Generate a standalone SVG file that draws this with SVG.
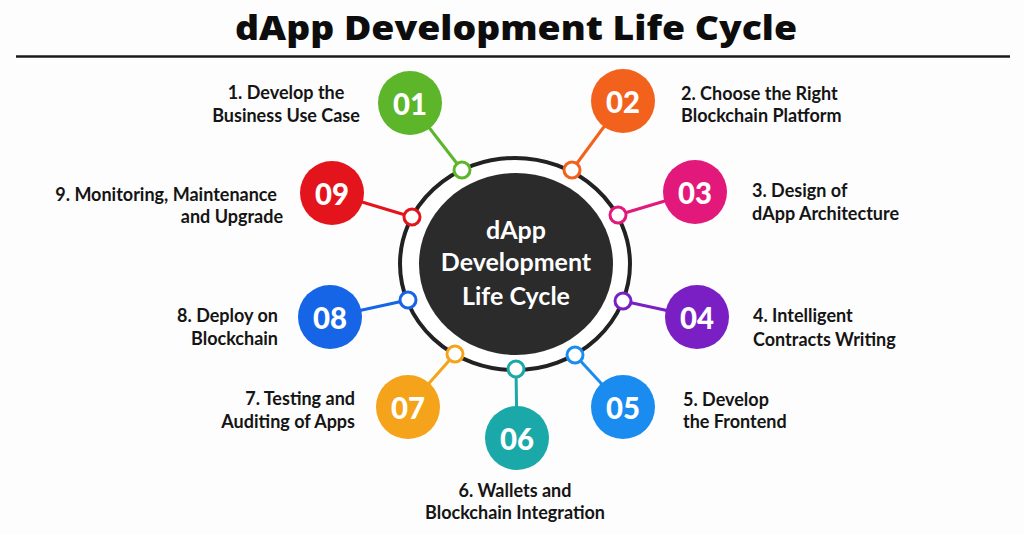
<svg xmlns="http://www.w3.org/2000/svg" width="1024" height="535" viewBox="0 0 1024 535">
<style>
.lbl{font-family:Lato,"Liberation Sans",sans-serif;font-weight:700;font-size:18px;fill:#151515}
.num{font-family:Lato,"Liberation Sans",sans-serif;font-weight:900;font-size:31px;fill:#fff;text-anchor:middle}
.ctr{font-family:Lato,"Liberation Sans",sans-serif;font-weight:700;font-size:25px;fill:#fff;text-anchor:middle}
.dot{fill:#fff;stroke-width:3}
.con{stroke-width:3;fill:none}
</style>
<rect width="1024" height="535" fill="#fdfdfd"/>
<g id="title">
<text x="516" y="40" text-anchor="middle" textLength="562" lengthAdjust="spacingAndGlyphs" style="font-family:'Open Sans','Liberation Sans',sans-serif;font-weight:800;font-size:33px;fill:#0d0d0d">dApp Development Life Cycle</text>
<line x1="16" y1="56.5" x2="1010" y2="56.5" stroke="#1a1a1a" stroke-width="2.5"/>
</g>
<g id="connectors">
<line class="con" x1="410" y1="103" x2="462" y2="170" stroke="#5db52a"/>
<line class="con" x1="623" y1="101" x2="572" y2="170" stroke="#f2621c"/>
<line class="con" x1="695" y1="192" x2="618" y2="215" stroke="#e2187b"/>
<line class="con" x1="697" y1="317" x2="623" y2="301" stroke="#7a1fc4"/>
<line class="con" x1="623" y1="407" x2="575" y2="355" stroke="#1a8cf0"/>
<line class="con" x1="517" y1="438" x2="516" y2="369" stroke="#1ba8a8"/>
<line class="con" x1="408" y1="407" x2="455" y2="354" stroke="#f5a31a"/>
<line class="con" x1="330" y1="317" x2="408" y2="300" stroke="#1565e6"/>
<line class="con" x1="332" y1="193" x2="412" y2="217" stroke="#e4141c"/>
</g>
<g id="hub">
<ellipse cx="515" cy="264" rx="115" ry="106" fill="#fff" stroke="#222" stroke-width="4"/>
<ellipse cx="516" cy="264" rx="97" ry="91" fill="#2b2b2b"/>
<text class="ctr" x="516" y="239">dApp</text>
<text class="ctr" x="516" y="271">Development</text>
<text class="ctr" x="516" y="305">Life Cycle</text>
</g>
<g id="step1">
<circle class="dot" cx="462" cy="170" r="8" stroke="#5db52a"/>
<circle cx="410" cy="103" r="32" fill="#5db52a"/>
<text class="num" x="410" y="114.5" textLength="34" lengthAdjust="spacingAndGlyphs">01</text>
<text class="lbl" x="286" y="99" text-anchor="middle">1. Develop the</text>
<text class="lbl" x="286" y="122" text-anchor="middle">Business Use Case</text>
</g>
<g id="step2">
<circle class="dot" cx="572" cy="170" r="8" stroke="#f2621c"/>
<circle cx="623" cy="101" r="32" fill="#f2621c"/>
<text class="num" x="623" y="112.5" textLength="34" lengthAdjust="spacingAndGlyphs">02</text>
<text class="lbl" x="681" y="100">2. Choose the Right</text>
<text class="lbl" x="681" y="122">Blockchain Platform</text>
</g>
<g id="step3">
<circle class="dot" cx="618" cy="215" r="8" stroke="#e2187b"/>
<circle cx="695" cy="192" r="32" fill="#e2187b"/>
<text class="num" x="695" y="203.5" textLength="34" lengthAdjust="spacingAndGlyphs">03</text>
<text class="lbl" x="752" y="197">3. Design of</text>
<text class="lbl" x="752" y="220">dApp Architecture</text>
</g>
<g id="step4">
<circle class="dot" cx="623" cy="301" r="8" stroke="#7a1fc4"/>
<circle cx="697" cy="317" r="32" fill="#7a1fc4"/>
<text class="num" x="697" y="328.5" textLength="34" lengthAdjust="spacingAndGlyphs">04</text>
<text class="lbl" x="753" y="322">4. Intelligent</text>
<text class="lbl" x="753" y="346">Contracts Writing</text>
</g>
<g id="step5">
<circle class="dot" cx="575" cy="355" r="8" stroke="#1a8cf0"/>
<circle cx="623" cy="407" r="32" fill="#1a8cf0"/>
<text class="num" x="623" y="418.5" textLength="34" lengthAdjust="spacingAndGlyphs">05</text>
<text class="lbl" x="683" y="406">5. Develop</text>
<text class="lbl" x="683" y="428">the Frontend</text>
</g>
<g id="step6">
<circle class="dot" cx="516" cy="369" r="8" stroke="#1ba8a8"/>
<circle cx="517" cy="438" r="32" fill="#1ba8a8"/>
<text class="num" x="517" y="449.5" textLength="34" lengthAdjust="spacingAndGlyphs">06</text>
<text class="lbl" x="515" y="497" text-anchor="middle">6. Wallets and</text>
<text class="lbl" x="515" y="519" text-anchor="middle">Blockchain Integration</text>
</g>
<g id="step7">
<circle class="dot" cx="455" cy="354" r="8" stroke="#f5a31a"/>
<circle cx="408" cy="407" r="32" fill="#f5a31a"/>
<text class="num" x="408" y="418.5" textLength="34" lengthAdjust="spacingAndGlyphs">07</text>
<text class="lbl" x="355" y="405" text-anchor="end">7. Testing and</text>
<text class="lbl" x="355" y="428" text-anchor="end">Auditing of Apps</text>
</g>
<g id="step8">
<circle class="dot" cx="408" cy="300" r="8" stroke="#1565e6"/>
<circle cx="330" cy="317" r="32" fill="#1565e6"/>
<text class="num" x="330" y="328.5" textLength="34" lengthAdjust="spacingAndGlyphs">08</text>
<text class="lbl" x="278" y="322" text-anchor="end">8. Deploy on</text>
<text class="lbl" x="278" y="345" text-anchor="end">Blockchain</text>
</g>
<g id="step9">
<circle class="dot" cx="412" cy="217" r="8" stroke="#e4141c"/>
<circle cx="332" cy="193" r="32" fill="#e4141c"/>
<text class="num" x="332" y="204.5" textLength="34" lengthAdjust="spacingAndGlyphs">09</text>
<text class="lbl" x="277" y="201" text-anchor="end">9. Monitoring, Maintenance</text>
<text class="lbl" x="283" y="223" text-anchor="end">and Upgrade</text>
</g>
</svg>
